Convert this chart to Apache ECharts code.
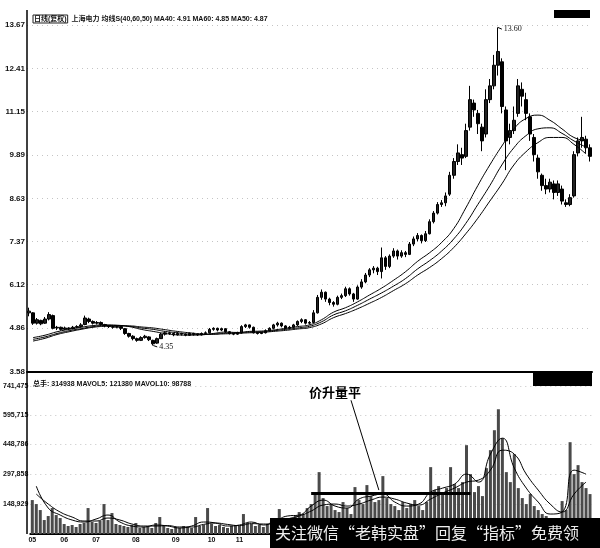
<!DOCTYPE html>
<html><head><meta charset="utf-8">
<script src="https://cdn.jsdelivr.net/npm/echarts@6/dist/echarts.min.js"></script>
<style>html,body{margin:0;padding:0;background:#fff}#c{width:600px;height:548px}</style>
</head><body><div id="c"></div>
<script>
const yearLabels = ['05','06','07','08','09','10','11'];
const yearStartIdx = [0,8,16,26,36,45,52];
const priceTicks = [3.58,4.86,6.12,7.37,8.63,9.89,11.15,12.41,13.67];
const volTicks = [148929,297858,448786,595715,741475];

const openP = [5.30,5.30,5.00,5.08,5.00,5.12,5.22,4.86,4.88,4.82,4.86,4.84,4.88,4.90,4.96,5.12,5.05,5.00,5.02,4.96,
4.92,4.90,4.88,4.90,4.84,4.70,4.62,4.55,4.50,4.58,4.60,4.50,4.42,4.55,4.68,4.72,4.70,4.66,4.70,4.68,
4.65,4.70,4.68,4.66,4.70,4.72,4.82,4.85,4.80,4.84,4.75,4.70,4.68,4.72,4.90,4.95,4.88,4.72,4.70,4.72,
4.78,4.85,4.95,5.00,4.92,4.85,4.88,4.95,5.05,5.10,5.00,5.02,5.30,5.75,5.90,5.70,5.60,5.55,5.75,5.80,
6.00,5.85,5.70,6.05,6.20,6.40,6.55,6.60,6.50,6.90,6.65,6.95,7.10,6.95,7.05,7.00,7.30,7.45,7.55,7.40,
7.60,7.95,8.20,8.45,8.50,8.75,9.30,9.70,9.90,9.85,10.70,11.40,11.10,10.70,10.50,11.50,11.90,12.50,12.60,11.20,
10.40,10.60,11.10,11.80,11.50,11.00,10.40,9.80,9.30,9.00,8.90,9.05,8.80,8.90,8.50,8.45,8.70,9.95,10.30,10.35,10.10];
const closeP = [5.35,5.00,5.10,4.98,5.12,5.25,4.85,4.88,4.82,4.86,4.84,4.88,4.90,4.95,5.15,5.05,5.00,5.02,4.96,4.92,
4.90,4.88,4.90,4.85,4.70,4.62,4.55,4.50,4.58,4.62,4.52,4.40,4.55,4.68,4.72,4.70,4.66,4.70,4.68,4.65,
4.70,4.68,4.66,4.70,4.72,4.82,4.85,4.80,4.84,4.75,4.70,4.68,4.72,4.90,4.95,4.88,4.72,4.70,4.72,4.78,
4.85,4.95,5.00,4.92,4.85,4.88,4.95,5.05,5.10,5.00,5.02,5.30,5.75,5.90,5.70,5.60,5.55,5.75,5.80,6.00,
5.85,5.70,6.05,6.20,6.40,6.55,6.60,6.50,6.90,6.65,6.95,7.10,6.95,7.05,7.00,7.30,7.45,7.55,7.40,7.60,
7.95,8.20,8.45,8.50,8.70,9.30,9.70,9.95,9.80,10.60,11.50,11.20,10.80,10.30,11.50,11.90,12.50,12.90,11.30,10.30,
10.60,10.90,11.90,11.60,11.10,10.50,9.90,9.40,9.00,8.90,9.10,8.80,9.05,8.55,8.45,8.65,9.90,10.30,10.40,10.10,9.85];
const lowP = [5.20,4.95,4.96,4.94,4.98,5.08,4.82,4.80,4.78,4.80,4.80,4.82,4.85,4.88,4.94,5.00,4.96,4.96,4.92,4.88,
4.86,4.84,4.85,4.80,4.66,4.58,4.50,4.46,4.48,4.55,4.48,4.35,4.40,4.54,4.64,4.66,4.62,4.64,4.64,4.62,
4.63,4.64,4.63,4.64,4.67,4.70,4.78,4.76,4.77,4.72,4.67,4.65,4.66,4.70,4.86,4.84,4.70,4.67,4.68,4.70,
4.76,4.82,4.90,4.88,4.82,4.82,4.86,4.92,5.00,4.96,4.96,5.00,5.28,5.68,5.62,5.52,5.48,5.52,5.70,5.76,
5.80,5.62,5.68,6.00,6.16,6.34,6.45,6.40,6.30,6.55,6.60,6.90,6.85,6.90,6.92,6.98,7.24,7.38,7.32,7.36,
7.58,7.90,8.16,8.38,8.40,8.70,9.20,9.60,9.60,9.80,10.60,11.00,10.50,10.00,10.40,11.40,11.80,12.20,11.10,9.45,
10.20,10.50,11.00,11.30,10.90,10.30,9.70,9.20,8.85,8.75,8.80,8.60,8.70,8.45,8.38,8.40,8.65,9.85,10.10,9.95,9.70];
const highP = [5.45,5.32,5.15,5.10,5.18,5.32,5.25,4.92,4.90,4.90,4.88,4.92,4.94,5.00,5.22,5.16,5.08,5.06,5.05,4.98,
4.95,4.92,4.94,4.92,4.86,4.72,4.65,4.58,4.62,4.66,4.62,4.52,4.58,4.72,4.76,4.75,4.72,4.74,4.72,4.70,
4.73,4.72,4.70,4.73,4.76,4.86,4.88,4.87,4.87,4.85,4.77,4.72,4.75,4.94,4.98,4.96,4.90,4.75,4.75,4.82,
4.88,4.98,5.04,5.02,4.94,4.92,4.98,5.08,5.14,5.12,5.06,5.38,5.82,5.98,5.92,5.74,5.64,5.80,5.86,6.06,
6.04,5.88,6.10,6.28,6.46,6.60,6.66,6.64,7.20,6.95,7.00,7.18,7.14,7.12,7.10,7.36,7.52,7.62,7.58,7.68,
8.02,8.26,8.52,8.58,8.80,9.40,9.80,10.20,10.10,10.80,11.90,11.50,11.20,10.80,11.80,12.10,12.80,13.60,12.70,11.30,
10.80,11.30,12.10,12.00,11.70,11.10,10.50,9.90,9.35,9.20,9.20,9.15,9.15,9.00,8.60,8.75,10.00,10.40,11.00,10.45,10.20];

const volume = [170000,150000,120000,70000,90000,130000,95000,80000,50000,40000,45000,35000,50000,55000,130000,60000,55000,65000,150000,70000,
105000,50000,45000,40000,35000,45000,55000,30000,35000,40000,30000,55000,85000,40000,30000,25000,35000,30000,40000,35000,
30000,85000,40000,45000,130000,50000,40000,45000,35000,30000,40000,45000,40000,100000,55000,50000,40000,45000,35000,50000,
60000,55000,125000,80000,70000,60000,90000,110000,100000,130000,150000,205000,310000,180000,140000,150000,120000,110000,160000,130000,
100000,235000,170000,150000,245000,190000,160000,170000,290000,180000,150000,140000,120000,160000,130000,150000,170000,140000,120000,160000,
335000,220000,240000,200000,230000,335000,250000,230000,260000,445000,300000,210000,240000,190000,330000,420000,520000,625000,480000,310000,
260000,400000,230000,180000,150000,200000,140000,120000,100000,90000,80000,40000,45000,165000,120000,460000,300000,345000,260000,230000,200000];

const ma40 = [4.58,4.65,4.75,4.82,4.88,4.93,4.95,4.94,4.90,4.82,4.76,4.70,4.66,4.65,4.66,4.70,4.74,4.73,4.76,4.77,4.80,4.85,4.90,4.95,5.10,5.32,5.45,5.62,5.82,6.02,6.25,6.50,6.80,7.05,7.35,7.75,8.35,9.00,9.60,10.15,10.65,10.95,11.05,10.90,10.65,10.40,10.30];
const ma50 = [4.53,4.60,4.70,4.78,4.84,4.90,4.93,4.93,4.91,4.86,4.82,4.76,4.72,4.68,4.67,4.68,4.71,4.72,4.74,4.75,4.78,4.82,4.86,4.91,5.04,5.24,5.36,5.52,5.70,5.88,6.08,6.30,6.58,6.82,7.10,7.45,7.90,8.45,9.00,9.60,10.10,10.45,10.65,10.68,10.52,10.30,10.12];
const ma60 = [4.48,4.56,4.67,4.75,4.82,4.88,4.91,4.92,4.92,4.89,4.86,4.81,4.76,4.72,4.69,4.68,4.69,4.70,4.72,4.73,4.76,4.79,4.83,4.87,4.98,5.16,5.28,5.42,5.58,5.75,5.95,6.15,6.40,6.62,6.88,7.20,7.60,8.05,8.55,9.05,9.60,9.98,10.25,10.40,10.40,10.20,9.92];
const mavol5 = [240000,130000,95000,70000,60000,75000,95000,60000,40000,35000,45000,40000,30000,40000,60000,55000,40000,45000,60000,45000,65000,90000,95000,140000,170000,140000,130000,175000,190000,200000,160000,140000,150000,210000,230000,250000,300000,260000,400000,480000,330000,230000,160000,100000,110000,320000,300000];
const mavol10 = [200000,150000,110000,85000,65000,65000,80000,70000,50000,40000,40000,42000,35000,35000,48000,55000,48000,42000,52000,50000,55000,75000,90000,115000,145000,150000,140000,150000,170000,185000,175000,155000,145000,175000,205000,230000,260000,270000,320000,420000,400000,300000,220000,150000,110000,200000,260000];

const peakIdx = 117, lowIdx = 31;

const days = openP.map((_, i) => String(i));
const maCats = ma40.map((_, j) => String(j));
const kData = openP.map((o, i) => [o, closeP[i], lowP[i], highP[i]]);

const FONT = '"Liberation Sans","Noto Sans CJK SC",sans-serif';
const axisLab = {fontSize: 8, fontWeight: 'bold', color: '#111', fontFamily: FONT, margin: 2};
const split = {show: true, lineStyle: {color: '#c4c4c4', type: [1, 4], width: 1}};

const chart = echarts.init(document.getElementById('c'));
chart.setOption({
  animation: false,
  backgroundColor: '#fff',
  title: [
    {text: '{b|日线(复权)}  上海电力 均线S(40,60,50) MA40: 4.91 MA60: 4.85 MA50: 4.87', left: 28, top: 10,
     textStyle: {fontSize: 7, fontWeight: 'bold', color: '#111', fontFamily: FONT,
       rich: {b: {fontSize: 7, fontWeight: 'bold', color: '#111', fontFamily: FONT, borderColor: '#222', borderWidth: 1, padding: [1, 1, 0, 1]}}}},
    {text: '总手: 314938 MAVOL5: 121380 MAVOL10: 98788', left: 28, top: 376,
     textStyle: {fontSize: 7, fontWeight: 'bold', color: '#111', fontFamily: FONT}}
  ],
  grid: [
    {left: 27, right: 8, top: 25, height: 347},
    {left: 27, right: 8, top: 386, height: 148}
  ],
  xAxis: [
    {type: 'category', gridIndex: 0, data: days, boundaryGap: true,
     axisLine: {show: true, lineStyle: {color: '#000', width: 2}}, axisTick: {show: false}, axisLabel: {show: false}, splitLine: {show: false}},
    {type: 'category', gridIndex: 0, data: maCats, boundaryGap: true, show: false},
    {type: 'category', gridIndex: 1, data: days, boundaryGap: true,
     axisLine: {show: true, lineStyle: {color: '#000', width: 2}}, axisTick: {show: false},
     axisLabel: {fontSize: 7, fontWeight: 'bold', color: '#111', fontFamily: FONT, margin: 3,
       interval: (idx) => yearStartIdx.indexOf(idx) >= 0,
       formatter: (v, idx) => { const k = yearStartIdx.indexOf(idx); return k >= 0 ? yearLabels[k] : ''; }},
     splitLine: {show: false}},
    {type: 'category', gridIndex: 1, data: maCats, boundaryGap: true, show: false}
  ],
  yAxis: [
    {type: 'value', gridIndex: 0, min: 3.58, max: 13.67,
     axisLine: {show: false},
     axisTick: {show: false, customValues: priceTicks},
     axisLabel: Object.assign({customValues: priceTicks}, axisLab),
     splitLine: split},
    {type: 'value', gridIndex: 1, min: 0, max: 741475,
     axisLine: {show: false},
     axisTick: {show: false, customValues: volTicks},
     axisLabel: Object.assign({customValues: volTicks}, axisLab, {fontSize: 7}),
     splitLine: split}
  ],
  series: [
    {type: 'candlestick', xAxisIndex: 0, yAxisIndex: 0, data: kData, barWidth: 3,
     itemStyle: {color: '#222', color0: '#000', borderColor: '#000', borderColor0: '#000', borderWidth: 1},
     markPoint: {symbol: 'circle', symbolSize: 0, silent: true,
       data: [
         {coord: [peakIdx + 1, 13.55], label: {show: true, formatter: '13.60', position: 'right', distance: 2, fontSize: 8, color: '#111', fontFamily: '"Liberation Serif",serif'}},
         {coord: [lowIdx + 1, 4.31], label: {show: true, formatter: '4.35', position: 'right', distance: 2, fontSize: 8, color: '#111', fontFamily: '"Liberation Serif",serif'}}
       ]},
     markLine: {silent: true, symbol: ['none', 'none'], label: {show: false}, lineStyle: {color: '#000', width: 1, type: 'solid'},
       data: [
         [{coord: [peakIdx, highP[peakIdx]]}, {coord: [peakIdx + 1, 13.55]}],
         [{coord: [lowIdx, lowP[lowIdx]]}, {coord: [lowIdx + 1, 4.31]}]
       ]}},
    {type: 'line', xAxisIndex: 1, yAxisIndex: 0, data: ma40, smooth: true, symbol: 'none', lineStyle: {color: '#000', width: 1}},
    {type: 'line', xAxisIndex: 1, yAxisIndex: 0, data: ma50, smooth: true, symbol: 'none', lineStyle: {color: '#000', width: 1}},
    {type: 'line', xAxisIndex: 1, yAxisIndex: 0, data: ma60, smooth: true, symbol: 'none', lineStyle: {color: '#000', width: 1}},
    {type: 'bar', xAxisIndex: 2, yAxisIndex: 1, data: volume, barWidth: 3,
     itemStyle: {color: '#4a4a4a'},
     markPoint: {symbol: 'circle', symbolSize: 0, silent: true,
       data: [{coord: [76, 712000], label: {show: true, formatter: '价升量平', position: 'inside', fontSize: 13, fontWeight: 'bold', color: '#000', fontFamily: '"Noto Sans CJK SC",sans-serif'}}]},
     markLine: {silent: true, symbol: ['none', 'none'], label: {show: false},
       data: [
         [{coord: [80, 670000], lineStyle: {color: '#000', width: 1, type: 'solid'}}, {coord: [87, 220000]}],
         [{coord: [70, 205000], lineStyle: {color: '#000', width: 3, type: 'solid'}}, {coord: [110, 205000]}]
       ]}},
    {type: 'line', xAxisIndex: 3, yAxisIndex: 1, data: mavol5, smooth: true, symbol: 'none', lineStyle: {color: '#000', width: 1}},
    {type: 'line', xAxisIndex: 3, yAxisIndex: 1, data: mavol10, smooth: true, symbol: 'none', lineStyle: {color: '#000', width: 1}}
  ],
  graphic: [
    {type: 'line', shape: {x1: 27, y1: 10, x2: 27, y2: 534}, style: {stroke: '#000', lineWidth: 1.5}, z: 100},
    {type: 'rect', shape: {x: 554, y: 10, width: 36, height: 8}, style: {fill: '#000'}, z: 100},
    {type: 'rect', shape: {x: 533, y: 373, width: 59, height: 13}, style: {fill: '#000'}, z: 100},
    {type: 'rect', shape: {x: 270, y: 518, width: 330, height: 30}, style: {fill: '#000'}, z: 100},
    {type: 'text', x: 275, y: 533, z: 101,
     style: {text: '关注微信“老韩实盘”回复“指标”免费领', fill: '#eee', fontSize: 16, verticalAlign: 'middle', fontFamily: '"Noto Sans CJK SC",sans-serif'}}
  ]
});
</script>
</body></html>
